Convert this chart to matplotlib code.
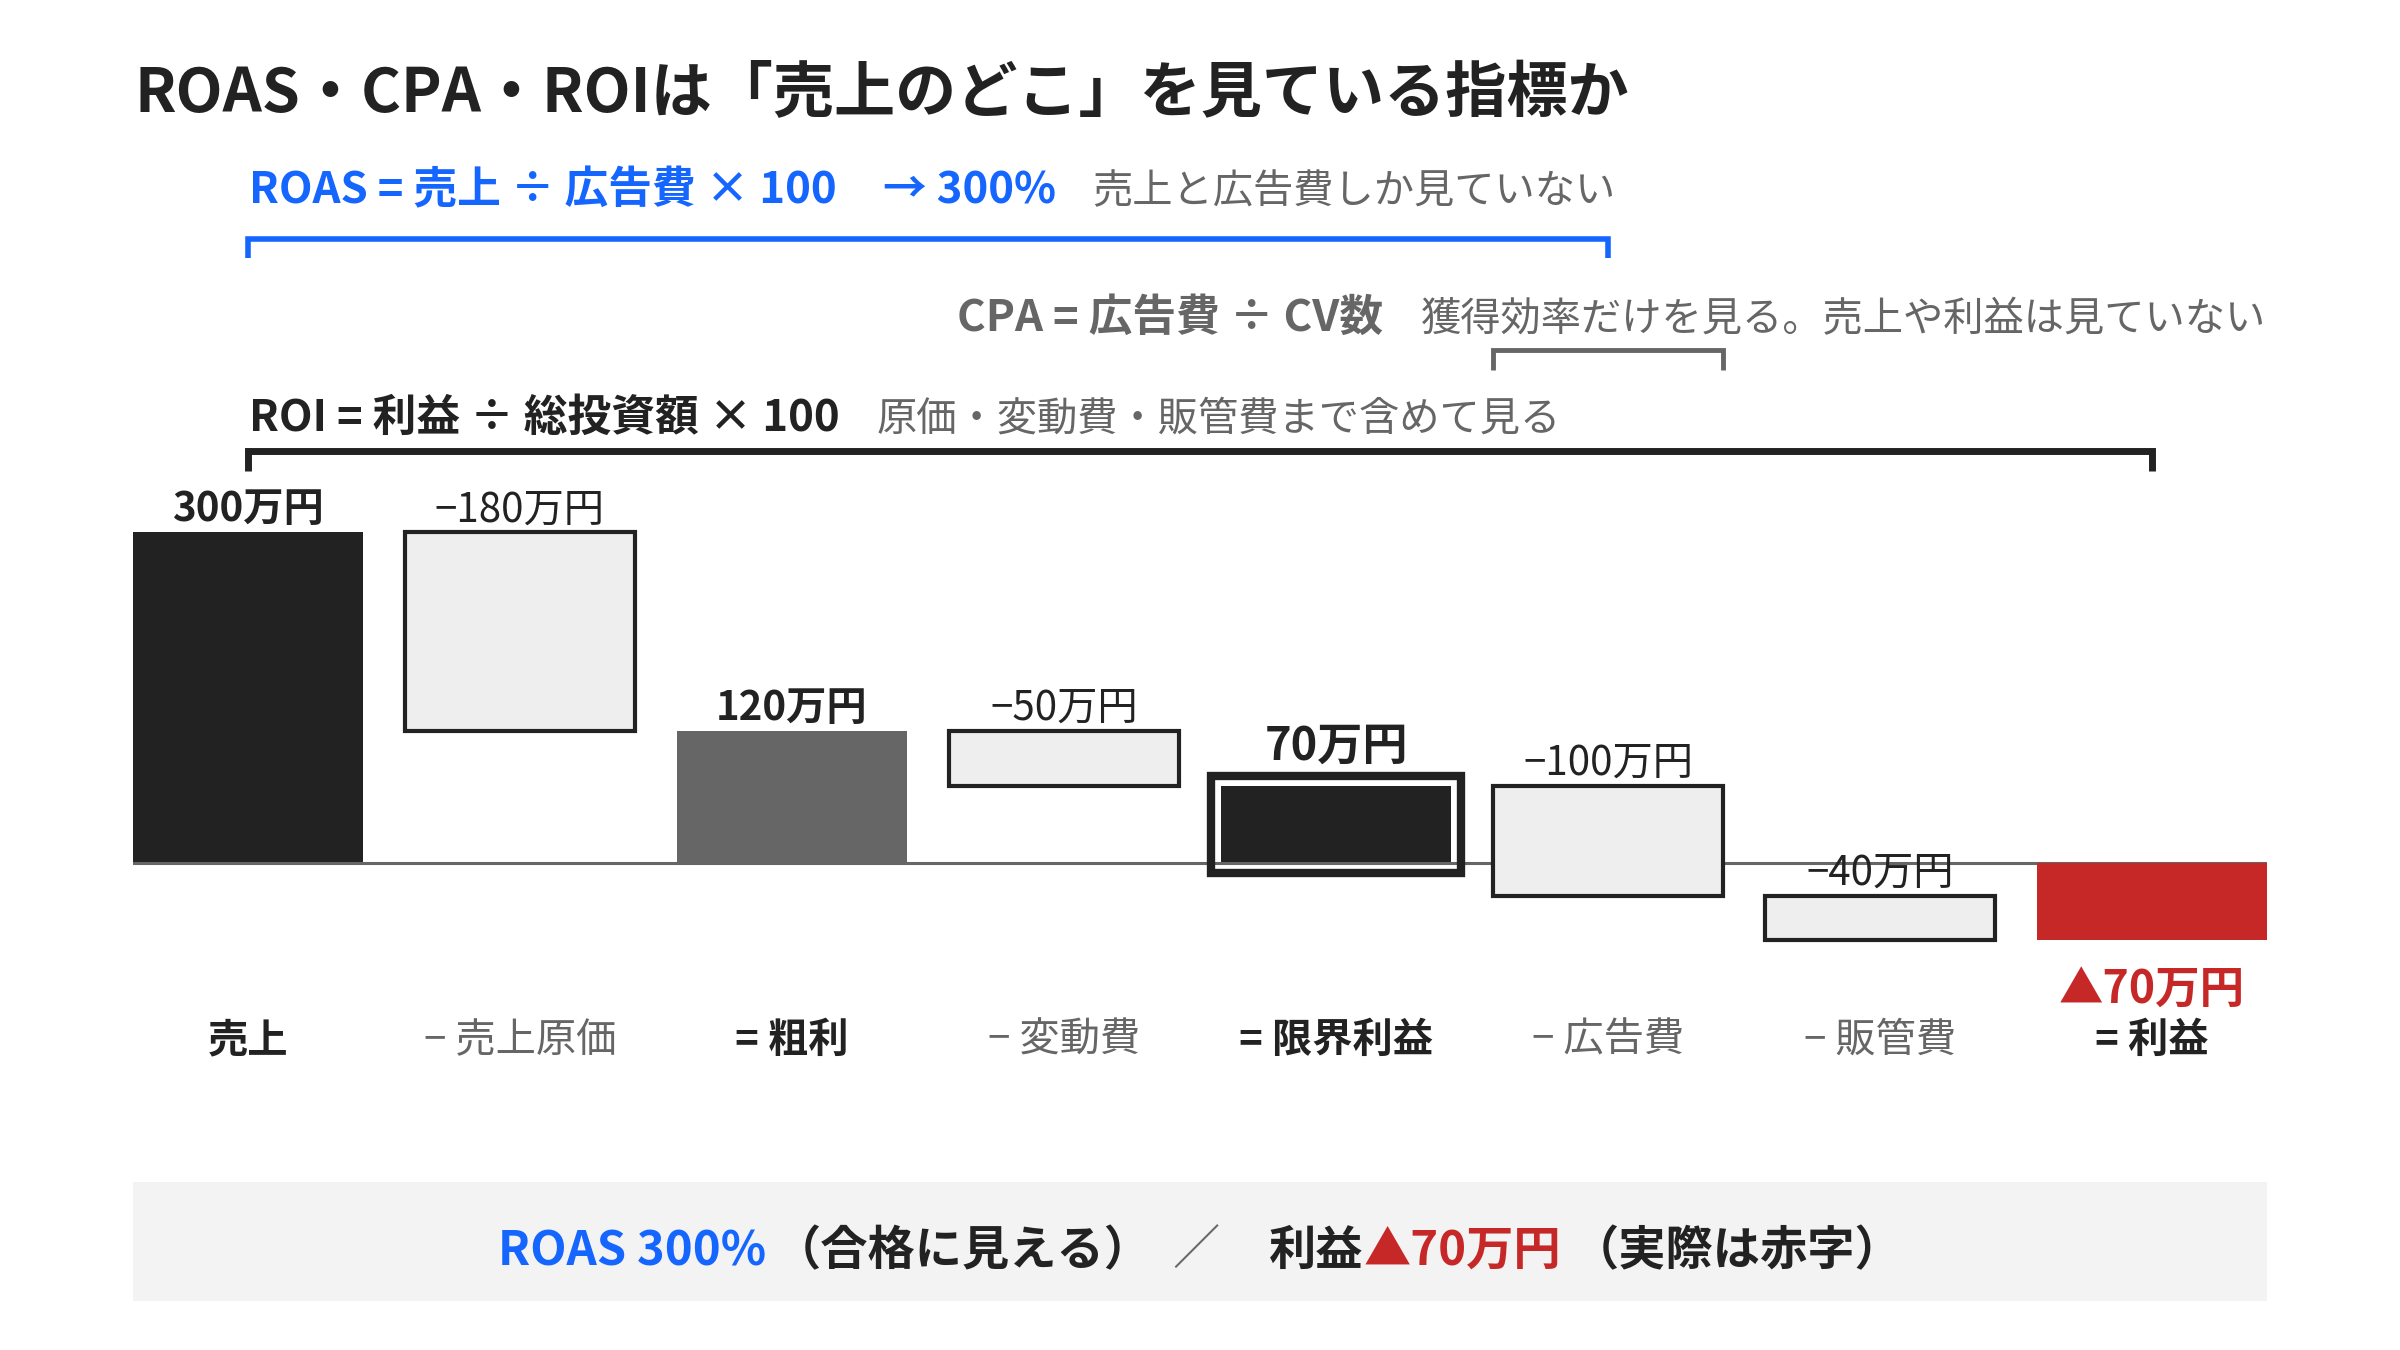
import matplotlib
matplotlib.use('Agg')
import matplotlib.pyplot as plt
from matplotlib.patches import Rectangle
from matplotlib.lines import Line2D
from matplotlib import transforms

plt.rcParams['font.family'] = ['Noto Sans CJK JP', 'DejaVu Sans']

# data
categories = ['売上', '− 売上原価', '= 粗利', '− 変動費', '= 限界利益', '− 広告費', '− 販管費', '= 利益']
steps = [300, -180, 120, -50, 70, -100, -40, -70]
is_total = [True, False, True, False, True, False, False, True]
value_labels = ['300万円', '−180万円', '120万円', '−50万円', '70万円', '−100万円', '−40万円', '▲70万円']

title = 'ROAS・CPA・ROIは「売上のどこ」を見ている指標か'
roas_formula = 'ROAS = 売上 ÷ 広告費 × 100'
roas_result = '→ 300%'
roas_note = '売上と広告費しか見ていない'
cpa_formula = 'CPA = 広告費 ÷ CV数'
cpa_note = '獲得効率だけを見る。売上や利益は見ていない'
roi_formula = 'ROI = 利益 ÷ 総投資額 × 100'
roi_note = '原価・変動費・販管費まで含めて見る'

W, H, DPI = 2400, 1350, 100
DARK = '#222222'
GRAY = '#666666'
LIGHT = '#eeeeee'
BLUE = '#1565ff'
RED = '#c62828'
BOXBG = '#f3f3f3'

fig = plt.figure(figsize=(W / DPI, H / DPI), dpi=DPI)
fig.patch.set_facecolor('white')
renderer = fig.canvas.get_renderer()


def fx(px):
    return px / W


def fy(px):
    return 1 - px / H


def run(x, y, pieces, align='left'):
    # pieces: (text, color, weight, size, gap_before_px)
    items = []
    for s, color, weight, size, gap in pieces:
        t = fig.text(0, fy(y), s, color=color, fontweight=weight,
                     fontsize=size, va='baseline', ha='left')
        items.append((t, gap))
    widths = [t.get_window_extent(renderer).width for t, _ in items]
    total = sum(widths) + sum(g for _, g in items)
    if align == 'right':
        x -= total
    elif align == 'center':
        x -= total / 2
    for (t, gap), w in zip(items, widths):
        x += gap
        t.set_x(fx(x))
        x += w


# chart axes: baseline at 863px, 1.102px per 万円
bar_w = 0.845
ax_left, ax_right = 133, 2267
base_px, ppu = 863, 1.102
ax = fig.add_axes([fx(ax_left), 0, fx(ax_right) - fx(ax_left), 1])
ax.set_xlim(-bar_w / 2, len(steps) - 1 + bar_w / 2)
ax.set_ylim(-(H - base_px) / ppu, base_px / ppu)
ax.axis('off')
ax.axhline(0, color=GRAY, lw=2.2, zorder=2)

xy_fig = transforms.blended_transform_factory(ax.transData, fig.transFigure)

running = 0
tops, bottoms = [], []
for i, v in enumerate(steps):
    if is_total[i]:
        lo, hi = min(0, v), max(0, v)
        running = v
    else:
        start = running
        running = running + v
        lo, hi = min(start, running), max(start, running)
    tops.append(hi)
    bottoms.append(lo)

    if i == len(steps) - 1:
        ax.bar(i, hi - lo, bottom=lo, width=bar_w, color=RED, zorder=3)
    elif is_total[i]:
        fc = GRAY if i == 2 else DARK
        ax.bar(i, hi - lo, bottom=lo, width=bar_w, color=fc, zorder=1)
    else:
        ax.bar(i, hi - lo, bottom=lo, width=bar_w, color=LIGHT,
               edgecolor=DARK, linewidth=3, zorder=3)

# highlighted frame around 限界利益
hi_i = 4
padx, pady = 10 / 272, 10 / ppu
ax.add_patch(Rectangle((hi_i - bar_w / 2 - padx, bottoms[hi_i] - pady),
                       bar_w + 2 * padx, tops[hi_i] - bottoms[hi_i] + 2 * pady,
                       fill=False, edgecolor=DARK, linewidth=6, zorder=4,
                       joinstyle='miter'))

# value labels
for i, lab in enumerate(value_labels):
    if i == len(steps) - 1:
        ax.annotate(lab, (i, bottoms[i]), xytext=(0, -64), textcoords='offset pixels',
                    ha='center', va='baseline', fontsize=32, fontweight='bold',
                    color=RED, zorder=5)
    elif i == hi_i:
        ax.annotate(lab, (i, tops[i] + pady), xytext=(0, 16), textcoords='offset pixels',
                    ha='center', va='baseline', fontsize=32.5, fontweight='bold',
                    color=DARK, zorder=5)
    else:
        ax.annotate(lab, (i, tops[i]), xytext=(0, 11), textcoords='offset pixels',
                    ha='center', va='baseline', fontsize=29,
                    fontweight='bold' if is_total[i] else 'normal',
                    color=DARK, zorder=5)

# category labels
for i, c in enumerate(categories):
    ax.text(i, fy(1052), c, transform=xy_fig, ha='center', va='baseline',
            fontsize=29, fontweight='bold' if is_total[i] else 'normal',
            color=DARK if is_total[i] else GRAY)


def bracket(x0, x1, y, ytick, color, lw):
    ln = Line2D([x0, x0, x1, x1], [fy(ytick), fy(y), fy(y), fy(ytick)],
                transform=xy_fig, color=color, lw=lw,
                solid_joinstyle='miter', solid_capstyle='butt', clip_on=False)
    ax.add_line(ln)


ad_i = categories.index('− 広告費')
bracket(0, ad_i, 239, 258, BLUE, 4)
bracket(ad_i - bar_w / 2, ad_i + bar_w / 2, 350, 370, GRAY, 3.5)
bracket(0, len(steps) - 1, 451, 471, DARK, 5)

# title and formula lines
run(135, 112, [(title, DARK, 'bold', 44, 0)])
run(249, 203, [(roas_formula, BLUE, 'bold', 31.5, 0),
               (roas_result, BLUE, 'bold', 31.5, 46),
               (roas_note, GRAY, 'normal', 29, 37)])
run(2266, 331, [(cpa_formula, GRAY, 'bold', 31.5, 0),
                (cpa_note, GRAY, 'normal', 29, 38)], align='right')
run(249, 431, [(roi_formula, DARK, 'bold', 31.5, 0),
               (roi_note, GRAY, 'normal', 29, 37)])

# bottom summary box
fig.patches.append(Rectangle((fx(133), fy(1301)), fx(2267) - fx(133), fy(1182) - fy(1301),
                             transform=fig.transFigure, facecolor=BOXBG, edgecolor='none',
                             zorder=0))
run(1200, 1265, [('ROAS 300%', BLUE, 'bold', 34, 0),
                 ('（合格に見える）', DARK, 'bold', 34, 8),
                 ('／', GRAY, 'normal', 34, 20),
                 ('利益', DARK, 'bold', 34, 50),
                 ('▲70万円', RED, 'bold', 34, 0),
                 ('（実際は赤字）', DARK, 'bold', 34, 10)], align='center')

fig.savefig('out.png', dpi=DPI, facecolor='white')
